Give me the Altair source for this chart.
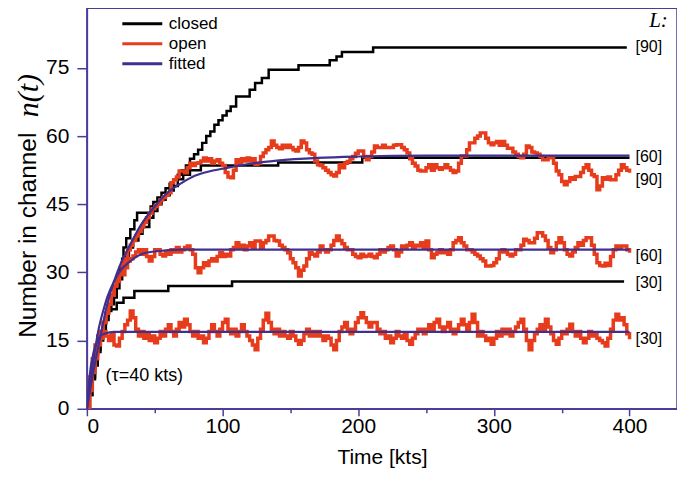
import altair as alt
import pandas as pd

# ---------------- data ----------------
# open-channel traces sampled every 2 kts from 0 to 400
t_grid = list(range(0, 401, 2))

open30 = [0, 7, 11, 14, 16, 15.5, 17, 16, 15, 16.5,
          14, 13.8, 15.5, 17, 18.5, 19.5, 21.5, 20, 17.5, 16,
          17, 15.5, 16.5, 15, 16, 14.5, 15.5, 17, 16, 17.5,
          18.5, 17, 16, 17.5, 19, 18, 19.7, 18.5, 17, 16,
          17, 15.5, 16, 14.5, 15.5, 17, 18.5, 17, 16, 17.5,
          19, 19.7, 17.5, 16.5, 17.5, 16, 17, 18.5, 17, 16,
          15, 14, 13, 15.5, 17.5, 19.5, 21, 19, 17.5, 16.5,
          17.5, 16, 17, 16, 15.5, 17, 16, 15, 14.2, 15,
          16.5, 17.5, 16, 17, 16, 17, 16, 15, 16, 15.5,
          14, 13, 15, 17, 18, 19, 17.5, 16.5, 17.5, 19,
          20, 21.1, 20, 19, 18, 19, 19, 17.5, 16.5, 17,
          15.5, 16, 14.5, 15.5, 17, 16, 15.5, 16.5, 15, 14.2,
          15.5, 16.5, 17.5, 17.5, 16.5, 17.5, 18.5, 17.5, 19, 19.7,
          18, 17, 18, 19, 17.5, 16.5, 17.5, 18.5, 19.7, 18.5,
          17.5, 19, 20.8, 19, 16, 17, 16, 15, 15.5, 14.2,
          15.5, 17, 16, 17.5, 16.5, 17.5, 16, 17, 18, 19,
          19.7, 17.5, 15, 13, 15, 16.5, 17.5, 18.5, 17.5, 19.7,
          18, 16.5, 15, 14.2, 15.5, 17, 16.5, 17.5, 18.6, 17,
          16, 17, 15.5, 14.5, 15.5, 17, 16, 16.5, 15.5, 15,
          14.5, 13.8, 15.5, 17.5, 19.5, 20.8, 19.5, 20, 18.5, 16.5,
          15.3]

open60 = [0, 5, 9, 12, 15, 17, 19, 21, 23, 25,
          27, 29, 30, 29.5, 31, 32.5, 33, 33.6, 34.5, 35,
          34, 35, 33.5, 32.5, 33.5, 35, 35, 34, 33.6, 34.5,
          34, 35, 34.5, 35.5, 34.5, 35, 35.5, 35.8, 35, 34,
          31, 29.9, 31, 32.1, 31.5, 32.5, 33, 32.5, 33.5, 34.3,
          33.5, 34, 33.6, 35, 35.5, 36.5, 35.5, 36, 35, 35.8,
          36.5, 35.5, 36.9, 36.9, 35.5, 36.5, 37, 38, 38, 37,
          36.9, 36, 35.5, 35, 34.3, 33, 32.1, 31, 29.2, 30.5,
          31.4, 33, 34.3, 34, 33.6, 34.5, 35.8, 35, 34.5, 35,
          36, 37, 38, 37, 36.3, 35.5, 35, 35, 34, 33.5,
          33.2, 34, 33.5, 33.6, 34, 33.5, 33.2, 34, 35, 34.5,
          35, 35.5, 35.8, 35, 33.6, 34.5, 35.8, 35.5, 36, 36.5,
          35.5, 36, 35.8, 36.5, 35.5, 36.9, 35, 33.2, 34, 34.3,
          35, 34.3, 34.7, 34, 35, 36.5, 37, 37.6, 36.5, 35.8,
          35, 35, 34.5, 34, 33.6, 33, 32.5, 31.4, 31.4, 31.5,
          32.1, 33, 34.5, 35, 34.5, 34, 33.6, 34, 35, 35,
          36, 37.3, 37, 36.5, 36.5, 37.5, 38.7, 38.7, 38, 37,
          35.5, 34.3, 35, 36.5, 37.6, 36.5, 35, 34, 33.6, 34.5,
          35.5, 36.5, 36, 37, 37.6, 37.6, 36, 34, 32.1, 31.5,
          31.4, 32, 31.5, 33.5, 35, 35.8, 35.5, 35.8, 35.8, 35,
          34.3]

open90 = [0, 4, 8, 11, 14, 17, 19, 21, 23, 25,
          27, 28, 30, 32, 33, 35, 36, 37, 38, 39,
          40, 41, 42, 43, 44, 44.5, 45, 46, 46.5, 47,
          47.5, 49.7, 50.4, 51, 52.3, 52.3, 51.9, 53, 54, 53.5,
          54, 54.1, 54.5, 55.2, 54.5, 55, 54, 54.5, 54.8, 54,
          53.5, 52, 51, 50.8, 52.5, 54.8, 54, 55, 54.5, 55.2,
          54.5, 55, 53.8, 54, 55.5, 56.3, 57, 57.5, 58.9, 58,
          57.5, 57.2, 58, 57.5, 58, 57.5, 57, 56.7, 57.5, 58.9,
          58.5, 57, 56.3, 56, 54.5, 53.7, 53.5, 53, 52.5, 52,
          51.5, 51.2, 52, 53.7, 53, 54, 54.4, 55, 55.5, 56.2,
          56.7, 56.7, 55.5, 54.8, 55.5, 56.5, 57.8, 57.5, 57.5, 58,
          57.5, 57.5, 57.5, 58, 58.1, 58.1, 57.5, 57, 56.3, 55,
          54, 53.4, 52.5, 52.3, 52.3, 53, 53.7, 52.5, 53.7, 53,
          52.7, 53, 53.7, 53, 52.5, 52, 52.3, 54, 55.6, 55.6,
          57, 58.5, 58.5, 59.5, 60, 60.7, 60.7, 59.5, 58.5, 58.1,
          58.5, 58.8, 58, 58.8, 58, 57.3, 57.3, 56.5, 56, 55.5,
          55.2, 56, 57.8, 57.5, 56.5, 56.3, 56, 55.5, 54.8, 54.8,
          55.2, 55.2, 54, 52.3, 51.5, 50, 49.3, 50, 50.8, 50.5,
          51.1, 51.1, 52, 53, 53.7, 52.5, 51.5, 51.1, 48.2, 49,
          50.8, 50.5, 51, 50.4, 50.4, 51.5, 52.5, 53.7, 53, 52.5,
          51.9]

# closed-channel step traces: (time of step, level after step)
closed30_t = [0, 2, 4, 6, 8, 10, 12, 14, 16, 22, 27, 35, 60, 107, 396]
closed30_v = [0, 5, 9, 12, 15, 17, 19, 20.5, 21.9, 23.3, 24.4, 25.9, 27, 28, 28]

closed60_t = [0, 2, 4, 6, 8, 10, 12, 14, 16, 18, 20, 22, 24, 26, 28, 31, 34, 38, 41,
              46, 49, 52, 55, 58, 61, 64, 67, 71, 76, 84, 141, 203, 400]
closed60_v = [0, 3, 6.5, 9.5, 12.5, 15, 17, 19.5, 21.5, 23, 24.5, 26.5, 28.5, 30.5, 33.5,
              35.5, 37, 38.5, 40, 42, 43.5, 45, 46, 47, 48, 49, 50.5, 51.5, 52.5, 53.5,
              54.2, 55.2, 55.2]

closed90_t = [0, 2, 4, 6, 8, 10, 12, 14, 16, 18, 20, 22, 24, 26, 27, 29, 32, 35, 37, 47,
              49, 52, 55, 58, 61, 64, 67, 70, 73, 76, 79, 82, 85, 88, 91, 94, 97, 100,
              103, 106, 110, 120, 124, 129, 134, 156, 179, 184, 188, 211, 398]
closed90_v = [0, 3, 7, 10, 13, 16, 18.5, 21, 23, 25, 27, 29, 31, 33, 35.5, 37.5, 39.5,
              41.5, 43.1, 44.5, 45.5, 46.5, 47.5, 48.5, 49.5, 50.5, 51.5, 52.5, 53.5, 55,
              56, 57, 58.5, 60, 61, 62.5, 63.5, 64.5, 65.5, 66.5, 68.7, 70.2, 71.7, 72.8,
              74.6, 75.6, 76.7, 77.5, 78.5, 79.5, 79.5]

# fitted curves
fit30_t = [0, 1, 2, 3, 4, 5, 6, 8, 10, 13, 20, 400]
fit30_v = [0, 4, 7, 9.5, 11, 12.5, 13.5, 15, 16, 16.5, 16.9, 16.9]
fit60_t = [0, 3, 6, 9, 12, 15, 20, 25, 30, 40, 50, 70, 400]
fit60_v = [0, 7, 13, 18, 21.5, 24.5, 28, 30.5, 32, 34, 34.6, 35, 35]
fit90_t = [0, 5, 10, 15, 20, 25, 30, 40, 50, 60, 70, 80, 90, 100, 120, 140, 170, 200, 250, 400]
fit90_v = [0, 8.5, 16, 23, 28, 32, 35, 40.5, 44.5, 47.7, 49.7, 51.3, 52.2, 52.8, 53.9,
           54.6, 55.2, 55.5, 55.7, 55.7]

# right-hand labels
lab_t = [404.4, 404.4, 404.4, 404.4, 404.4, 404.4]
lab_v = [79.7, 55.3, 50.4, 33.5, 27.6, 15.3]
lab_text = ["[90]", "[60]", "[90]", "[60]", "[30]", "[30]"]

kinds = ["closed", "open", "fitted"]
colors = ["#000000", "#e63c1b", "#3f2f8f"]
AX = "#4a3c9c"
FONT = "Liberation Sans"


def frame(ts, vs, name, kind):
    return pd.DataFrame({"t": ts, "v": vs, "series": name, "kind": kind})


closed_df = pd.concat([frame(closed30_t, closed30_v, "c30", "closed"),
                       frame(closed60_t, closed60_v, "c60", "closed"),
                       frame(closed90_t, closed90_v, "c90", "closed")])
open_df = pd.concat([frame(t_grid, open30, "o30", "open"),
                     frame(t_grid, open60, "o60", "open"),
                     frame(t_grid, open90, "o90", "open")])
fit_df = pd.concat([frame(fit30_t, fit30_v, "f30", "fitted"),
                    frame(fit60_t, fit60_v, "f60", "fitted"),
                    frame(fit90_t, fit90_v, "f90", "fitted")])
lab_df = pd.DataFrame({"t": lab_t, "v": lab_v, "text": lab_text})

xscale = alt.Scale(domain=[0, 435], nice=False, zero=False)
yscale = alt.Scale(domain=[0, 88.1], nice=False, zero=False)

xaxis = alt.Axis(
    values=[0, 50, 100, 150, 200, 250, 300, 350, 400],
    labelExpr="datum.value % 100 === 0 ? datum.label : ''",
    tickSize={"condition": {"test": "datum.value % 100 === 0", "value": 7}, "value": 4},
    title="Time [kts]", grid=False, labelFontSize=21, titleFontSize=21,
    titleFontWeight="normal", labelPadding=0, titlePadding=10,
)
yaxis = alt.Axis(
    values=[i * 7.5 for i in range(12)],
    labelExpr="datum.value % 15 === 0 ? datum.label : ''",
    tickSize={"condition": {"test": "datum.value % 15 === 0", "value": 10}, "value": 5},
    title=None, grid=False, labelFontSize=21, labelPadding=8,
)

color = alt.Color(
    "kind:N",
    scale=alt.Scale(domain=kinds, range=colors),
    legend=alt.Legend(
        orient="none", legendX=44, legendY=4, title=None,
        symbolType="M-2,0L2,0", symbolSize=400, symbolStrokeWidth=3,
        labelFontSize=17, labelFont=FONT, rowPadding=0, padding=0, labelOffset=15,
    ),
)

x = alt.X("t:Q", scale=xscale, axis=xaxis)
y = alt.Y("v:Q", scale=yscale, axis=yaxis)

closed_layer = alt.Chart(closed_df).mark_line(
    interpolate="step-after", strokeWidth=2.5, clip=True
).encode(x=x, y=y, color=color, detail="series:N")

open_layer = alt.Chart(open_df).mark_line(
    interpolate="step-after", strokeWidth=3.5, clip=True
).encode(x="t:Q", y="v:Q", color=color, detail="series:N")

fit_layer = alt.Chart(fit_df).mark_line(
    interpolate="monotone", strokeWidth=2.2, clip=True
).encode(x="t:Q", y="v:Q", color=color, detail="series:N")

labels = alt.Chart(lab_df).mark_text(
    align="left", baseline="middle", fontSize=16, font=FONT, color="black"
).encode(x="t:Q", y="v:Q", text="text:N")

L_text = alt.Chart(pd.DataFrame({"t": [414.5], "v": [85.3], "s": ["L:"]})).mark_text(
    align="left", baseline="middle", fontSize=21, font="Liberation Serif",
    fontStyle="italic", color="black"
).encode(x="t:Q", y="v:Q", text="s:N")

tau_text = alt.Chart(pd.DataFrame({"t": [13.8], "v": [7.1], "s": ["(τ=40 kts)"]})).mark_text(
    align="left", baseline="middle", fontSize=18, font=FONT, color="black"
).encode(x="t:Q", y="v:Q", text="s:N")

ytitle1 = alt.Chart(pd.DataFrame({"s": ["Number in channel"]})).mark_text(
    align="left", baseline="middle", angle=270, fontSize=24.5, font=FONT, color="black"
).encode(x=alt.value(-58), y=alt.value(330), text="s:N")

ytitle2 = alt.Chart(pd.DataFrame({"s": ["n(t)"]})).mark_text(
    align="left", baseline="middle", angle=270, fontSize=30, font="Liberation Serif",
    fontStyle="italic", color="black"
).encode(x=alt.value(-58), y=alt.value(109), text="s:N")

chart = alt.layer(
    closed_layer, open_layer, fit_layer, labels, L_text, tau_text, ytitle1, ytitle2
).properties(
    width=591, height=401,
    autosize=alt.AutoSizeParams(type="none"),
    padding={"left": 79, "top": 0, "right": 0, "bottom": 64},
).configure_view(
    stroke=AX, strokeWidth=1.5
).configure_axis(
    domainColor=AX, tickColor=AX, domainWidth=1.5, tickWidth=1.5,
    labelFont=FONT, titleFont=FONT, labelColor="black", titleColor="black",
)

chart.save("out.html", embed_options={"renderer": "svg", "actions": False})
